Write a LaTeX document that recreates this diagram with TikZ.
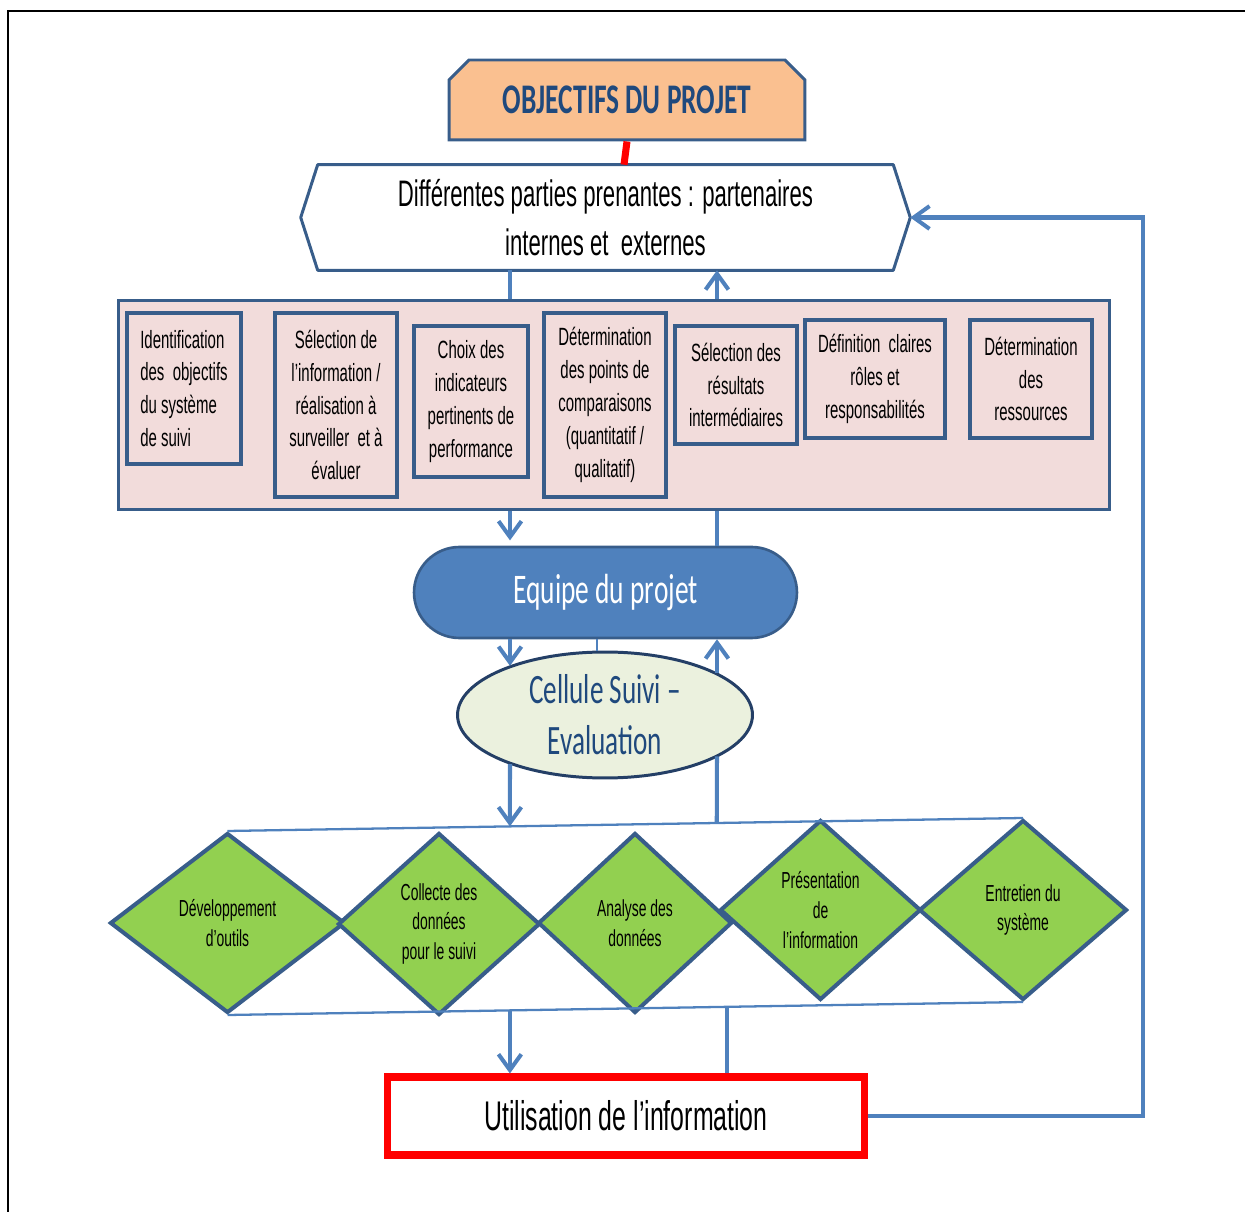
\documentclass[tikz,border=0pt]{standalone}
\usepackage{fontspec}
\setmainfont{Liberation Sans}
\newfontfamily\narrow{Liberation Sans}[FakeStretch=0.6]
\newfontfamily\calib{Carlito}[FakeStretch=0.65]
\usetikzlibrary{shapes.geometric,shapes.misc,arrows.meta,calc}
\definecolor{bblue}{HTML}{385D8A}
\definecolor{ablue}{HTML}{4F81BD}
\definecolor{darkb}{HTML}{243F66}
\definecolor{tblue}{HTML}{1F497D}
\definecolor{orangef}{HTML}{FAC090}
\definecolor{pinkf}{HTML}{F2DCDB}
\definecolor{greenf}{HTML}{92D050}
\definecolor{ellf}{HTML}{EBF1DE}
\newcommand\bxfont{\narrow\fontsize{14.2pt}{18.7pt}\selectfont}
\newcommand\dmdfont{\narrow\fontsize{13.2pt}{17pt}\selectfont}
\newcommand\hxfont{\narrow\fontsize{21pt}{27.8pt}\selectfont}
\tikzset{
  ibox/.style={draw=bblue, line width=2.5pt, fill=pinkf, inner sep=0pt, align=center, font=\bxfont},
  dmd/.style={diamond, draw=bblue, line width=2.3pt, fill=greenf, inner sep=0pt, align=center, font=\dmdfont, line join=miter},
  conn/.style={draw=ablue, line width=2.3pt},
  thinconn/.style={draw=ablue, line width=1.3pt},
  myarrow/.style={-{Straight Barb[length=9pt,width=13pt]}},
}
\begin{document}
\begin{tikzpicture}[x=0.02cm,y=-0.02cm]
\useasboundingbox (0,0) rectangle (1245,1212);
% outer frame
\draw[line width=1.2pt] (8,1212) -- (8,11) -- (1245,11);

% top objective box
\node[chamfered rectangle, chamfered rectangle corners={north west,north east},
      chamfered rectangle xsep=0.14cm, chamfered rectangle ysep=0.26cm,
      minimum width=7.12cm, minimum height=1.6cm, inner sep=0pt,
      draw=bblue, line width=1.7pt, fill=orangef, text=tblue,
      font=\calib\bfseries\fontsize{24pt}{28pt}\selectfont] (obj) at (627,100) {\raisebox{-0.11cm}{OBJECTIFS DU PROJET}};

% stakeholders hexagon
\node[inner sep=0pt, minimum width=11.5cm, minimum height=2.1cm, align=center, font=\hxfont] (hex) at (605.5,217.5)
  {Différentes parties prenantes : partenaires\\internes et~ externes};
\coordinate (hexL) at ([xshift=-0.34cm]hex.west);
\coordinate (hexR) at ([xshift=0.34cm]hex.east);
\draw[bblue, line width=1.7pt, line join=round] (hexL) -- (hex.north west) -- (hex.north east) -- (hexR) -- (hex.south east) -- (hex.south west) -- cycle;

\draw[red, line width=4pt] (obj.south) -- ([xshift=-0.06cm]hex.north -| obj.south);

% pink container
\node[draw=bblue, line width=1.7pt, fill=pinkf, minimum width=19.84cm, minimum height=4.2cm, inner sep=0pt] (pink) at (614,405) {};

\node[ibox, align=left, minimum width=2.28cm, minimum height=3.02cm] (b1) at (184,388.5)
  {Identification\\des~ objectifs\\du système\\de suivi};
\node[ibox, minimum width=2.44cm, minimum height=3.68cm] (b2) at (336,405)
  {Sélection de\\l’information /\\réalisation à\\surveiller~ et à\\évaluer};
\node[ibox, minimum width=2.28cm, minimum height=3.02cm] (b3) at (471,401.5)
  {Choix des\\indicateurs\\pertinents de\\performance};
\node[ibox, minimum width=2.44cm, minimum height=3.68cm] (b4) at (605,405)
  {Détermination\\des points de\\comparaisons\\(quantitatif /\\qualitatif)};
\node[ibox, minimum width=2.44cm, minimum height=2.36cm] (b5) at (736,385)
  {Sélection des\\résultats\\intermédiaires};
\node[ibox, minimum width=2.8cm, minimum height=2.36cm] (b6) at (875,379)
  {Définition~ claires\\rôles et\\responsabilités};
\node[ibox, minimum width=2.44cm, minimum height=2.36cm] (b7) at (1031,379)
  {Détermination\\des\\ressources};

% project team
\node[rounded rectangle, draw=bblue, line width=1.5pt, fill=ablue, minimum width=7.66cm, minimum height=1.82cm,
      inner sep=0pt, text=white, font=\calib\fontsize{24pt}{28pt}\selectfont] (eq) at (605.5,592.5) {\raisebox{-0.1cm}{Equipe du projet}};

% M&E cell
\node[ellipse, draw=darkb, line width=1.7pt, fill=ellf, minimum width=5.9cm, minimum height=2.52cm, inner sep=0pt,
      align=center, text=tblue, font=\calib\fontsize{23.8pt}{29pt}\selectfont] (ell) at (605,715) {Cellule Suivi –\\Evaluation};

% diamonds
\node[dmd, minimum width=4.7cm, minimum height=3.6cm] (d1) at (227.5,923) {Développement\\d’outils};
\node[dmd, minimum width=4.04cm, minimum height=3.64cm] (d2) at (439,924) {Collecte des\\données\\pour le suivi};
\node[dmd, minimum width=3.88cm, minimum height=3.6cm] (d3) at (635,923) {Analyse des\\données};
\node[dmd, minimum width=4.02cm, minimum height=3.6cm] (d4) at (820.5,910) {Présentation\\de\\l’information};
\node[dmd, minimum width=4.16cm, minimum height=3.6cm] (d5) at (1023,910) {Entretien du\\système};
\draw[thinconn] (d1.north) -- (d5.north);
\draw[thinconn] (d1.south) -- (d5.south);

% utilisation
\node[draw=red, line width=4pt, fill=white, minimum width=9.56cm, minimum height=1.56cm, inner sep=0pt,
      font=\narrow\fontsize{23.6pt}{28pt}\selectfont] (util) at (626,1116) {Utilisation de l’information};

% connectors
\coordinate (xl) at (510,0);
\coordinate (xr) at (717,0);
\coordinate (fb) at (1143,0);
\coordinate (ptop) at ($(d1.north)!0.355!(d5.north)$);
\coordinate (ptopr) at ($(d1.north)!0.615!(d5.north)$);
\coordinate (pbot) at ($(d1.south)!0.355!(d5.south)$);
\coordinate (pbotr) at ($(d1.south)!0.628!(d5.south)$);

\draw[conn] (hex.south -| xl) -- (pink.north -| xl);
\draw[conn, myarrow] (pink.north -| xr) -- (hex.south -| xr);
\draw[conn, myarrow, shorten >=3pt] (pink.south -| xl) -- (eq.north -| xl);
\draw[conn] (eq.north -| xr) -- (pink.south -| xr);
\draw[conn, myarrow] (eq.south -| xl) -- (ell.153 -| xl);
\draw[thinconn] (eq.south -| ell.97) -- (ell.97);
\draw[conn, myarrow] (ell.20 -| xr) -- (eq.south -| xr);
\draw[conn, myarrow] (ell.207 -| xl) -- (ptop);
\draw[conn] (ptopr) -- (ell.340 -| xr);
\draw[conn, myarrow] (pbot) -- (util.north -| pbot);
\draw[conn] (util.north -| pbotr) -- (pbotr);
\draw[conn, myarrow, line join=miter] (util.east) -- (util.east -| fb) -- (hexR -| fb) -- (hexR);
\end{tikzpicture}
\end{document}
